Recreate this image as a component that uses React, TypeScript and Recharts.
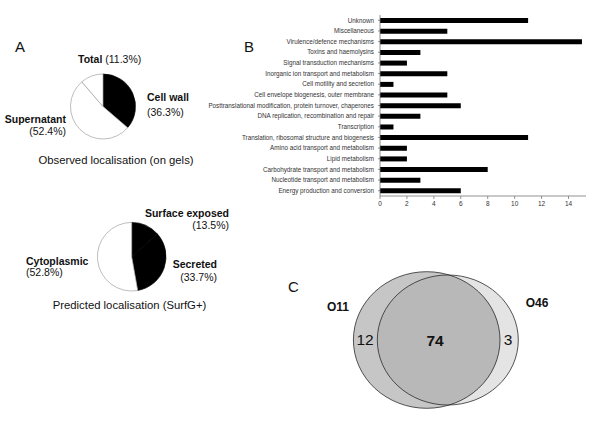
import React from 'react';
import { BarChart, Bar, XAxis, YAxis, PieChart, Pie, Cell, ScatterChart, Scatter } from 'recharts';

const categories = [
  'Unknown',
  'Miscellaneous',
  'Virulence/defence mechanisms',
  'Toxins and haemolysins',
  'Signal transduction mechanisms',
  'Inorganic ion transport and metabolism',
  'Cell motility and secretion',
  'Cell envelope biogenesis, outer membrane',
  'Posttranslational modification, protein turnover, chaperones',
  'DNA replication, recombination and repair',
  'Transcription',
  'Translation, ribosomal structure and biogenesis',
  'Amino acid transport and metabolism',
  'Lipid metabolism',
  'Carbohydrate transport and metabolism',
  'Nucleotide transport and metabolism',
  'Energy production and conversion',
];
const counts = [11, 5, 15, 3, 2, 5, 1, 5, 6, 3, 1, 11, 2, 2, 8, 3, 6];
const xTicks = [0, 2, 4, 6, 8, 10, 12, 14];

const observedNames = ['Cell wall', 'Supernatant', 'Total'];
const observedValues = [36.3, 52.4, 11.3];
const observedColors = ['#000000', '#ffffff', '#ffffff'];

const predictedNames = ['Surface exposed', 'Secreted', 'Cytoplasmic'];
const predictedValues = [13.5, 33.7, 52.8];
const predictedColors = ['#000000', '#000000', '#ffffff'];

const vennSets = ['O46 base', 'O11', 'O46'];
const vennCx = [177.8, 156.7, 177.8];
const vennCy = [80, 80, 80];
const vennRx = [70.5, 73.3, 70.5];
const vennRy = [65, 68.3, 65];
const vennCounts = { o11Only: 12, both: 74, o46Only: 3 };

const barData = categories.map((name, i) => ({ name, value: counts[i] }));
const observedData = observedNames.map((name, i) => ({ name, value: observedValues[i] }));
const predictedData = predictedNames.map((name, i) => ({ name, value: predictedValues[i] }));
const vennData = vennSets.map((name, i) => ({ name, x: vennCx[i], y: vennCy[i], rx: vennRx[i], ry: vennRy[i] }));

const FONT = '"Liberation Sans", Arial, sans-serif';

const T = ({ x, y, children, size = 10.5, bold = false, align = 'left', color = '#111' }: any) => {
  const tx = align === 'left' ? '0' : align === 'right' ? '-100%' : '-50%';
  return (
    <div
      style={{
        position: 'absolute',
        left: x,
        top: y,
        transform: `translate(${tx}, -50%)`,
        fontSize: size,
        fontWeight: bold ? 700 : 400,
        fontFamily: FONT,
        color,
        whiteSpace: 'nowrap',
        lineHeight: 1,
      }}
    >
      {children}
    </div>
  );
};

const CatTick = (props: any) => {
  const { x, y, payload } = props;
  return (
    <text x={x - 2} y={y} dy={2.2} textAnchor="end" fontSize={6.3} fill="#333" fontFamily={FONT}>
      {payload.value}
    </text>
  );
};

const VENN_W = 330;
const VENN_H = 168;

const makeEllipse = (fill: string, stroke: string, sw: number) => (props: any) => {
  const { cx, cy, payload } = props;
  const sx = VENN_W / 330;
  const sy = VENN_H / 168;
  return <ellipse cx={cx} cy={cy} rx={payload.rx * sx} ry={payload.ry * sy} fill={fill} stroke={stroke} strokeWidth={sw} />;
};

export default function App() {
  return (
    <div style={{ position: 'absolute', left: 0, top: 0, width: 600, height: 428, background: '#fff', overflow: 'hidden' }}>
      {/* Panel letters */}
      <T x={15} y={46} size={15}>A</T>
      <T x={244} y={46} size={15}>B</T>
      <T x={288} y={286} size={15}>C</T>

      {/* Pie 1 */}
      <div style={{ position: 'absolute', left: 0, top: 40 }}>
        <PieChart width={210} height={140} margin={{ top: 0, right: 0, bottom: 0, left: 0 }}>
          <Pie
            data={observedData}
            dataKey="value"
            nameKey="name"
            cx={103}
            cy={66.5}
            outerRadius={32.5}
            innerRadius={0}
            startAngle={90}
            endAngle={-270}
            isAnimationActive={false}
            stroke="#9a9a9a"
            strokeWidth={0.7}
          >
            {observedData.map((d, i) => (
              <Cell key={d.name} fill={observedColors[i]} stroke={i === 0 ? '#000' : '#a0a0a0'} />
            ))}
          </Pie>
        </PieChart>
      </div>
      <T x={78} y={59}><b>Total</b> (11.3%)</T>
      <T x={147} y={97} bold>Cell wall</T>
      <T x={147} y={112}>(36.3%)</T>
      <T x={66} y={119} bold align="right">Supernatant</T>
      <T x={66} y={131} align="right">(52.4%)</T>
      <T x={116} y={161} size={11.3} align="center">Observed localisation (on gels)</T>

      {/* Pie 2 */}
      <div style={{ position: 'absolute', left: 0, top: 190 }}>
        <PieChart width={210} height={130} margin={{ top: 0, right: 0, bottom: 0, left: 0 }}>
          <Pie
            data={predictedData}
            dataKey="value"
            nameKey="name"
            cx={131.7}
            cy={66.7}
            outerRadius={34.3}
            innerRadius={0}
            startAngle={90}
            endAngle={-270}
            isAnimationActive={false}
            strokeWidth={0.7}
          >
            {predictedData.map((d, i) => (
              <Cell key={d.name} fill={predictedColors[i]} stroke={i < 2 ? '#000' : '#a0a0a0'} />
            ))}
          </Pie>
        </PieChart>
      </div>
      <T x={229} y={213} bold align="right">Surface exposed</T>
      <T x={229} y={225} align="right">(13.5%)</T>
      <T x={26} y={261} bold>Cytoplasmic</T>
      <T x={26} y={272}>(52.8%)</T>
      <T x={217} y={264} bold align="right">Secreted</T>
      <T x={217} y={277} align="right">(33.7%)</T>
      <T x={129.5} y={306} size={11.3} align="center">Predicted localisation (SurfG+)</T>

      {/* Bar chart */}
      <div style={{ position: 'absolute', left: 180, top: 0 }}>
        <BarChart
          width={420}
          height={220}
          data={barData}
          layout="vertical"
          margin={{ top: 15, right: 14, bottom: 4, left: 0 }}
          barCategoryGap={0}
        >
          <XAxis
            type="number"
            domain={[0, 15.3]}
            ticks={xTicks}
            height={20}
            tickSize={3}
            tickMargin={2}
            axisLine={{ stroke: '#777', strokeWidth: 0.8 }}
            tickLine={{ stroke: '#777', strokeWidth: 0.8 }}
            tick={{ fontSize: 6.5, fill: '#333', fontFamily: FONT }}
            allowDataOverflow
          />
          <YAxis
            type="category"
            dataKey="name"
            width={200}
            interval={0}
            tickSize={2}
            axisLine={{ stroke: '#777', strokeWidth: 0.8 }}
            tickLine={{ stroke: '#777', strokeWidth: 0.8 }}
            tick={<CatTick />}
          />
          <Bar dataKey="value" fill="#000" barSize={5} isAnimationActive={false} />
        </BarChart>
      </div>

      {/* Venn */}
      <div style={{ position: 'absolute', left: 270, top: 260 }}>
        <ScatterChart width={VENN_W} height={VENN_H} margin={{ top: 0, right: 0, bottom: 0, left: 0 }}>
          <XAxis type="number" dataKey="x" domain={[0, 330]} hide />
          <YAxis type="number" dataKey="y" domain={[0, 168]} reversed hide />
          <Scatter data={[vennData[0]]} shape={makeEllipse('#f6f6f6', 'none', 0)} isAnimationActive={false} />
          <Scatter data={[vennData[1]]} shape={makeEllipse('#c6c6c6', '#2a2a2a', 0.8)} isAnimationActive={false} />
          <Scatter data={[vennData[2]]} shape={makeEllipse('rgba(0,0,0,0.07)', '#2a2a2a', 0.8)} isAnimationActive={false} />
        </ScatterChart>
      </div>
      <T x={338} y={307} size={12} bold align="center">O11</T>
      <T x={537} y={303} size={12} bold align="center">O46</T>
      <T x={365} y={340} size={15.5} align="center">{vennCounts.o11Only}</T>
      <T x={435} y={341} size={15.5} bold align="center">{vennCounts.both}</T>
      <T x={508} y={340} size={15.5} align="center">{vennCounts.o46Only}</T>
    </div>
  );
}
